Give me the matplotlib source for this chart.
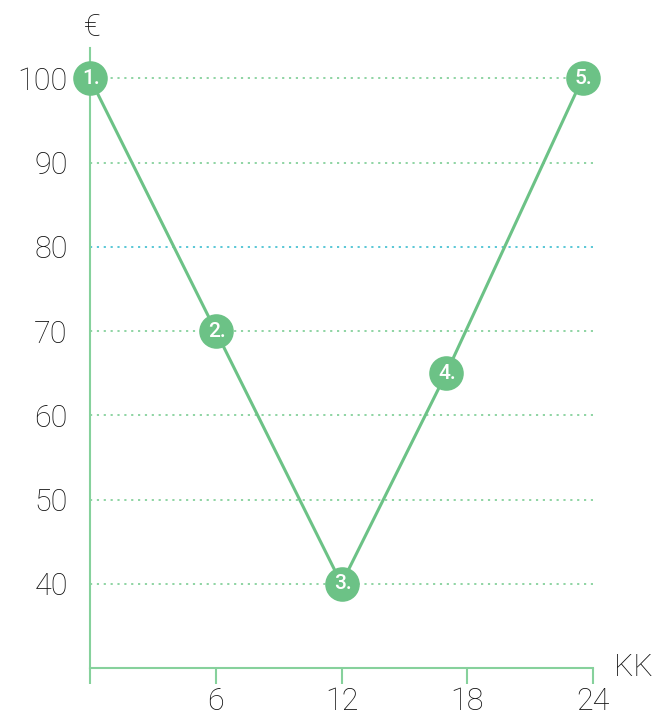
import matplotlib.pyplot as plt

# data
months = [0, 6, 12, 17, 23.5]
prices = [100, 70, 40, 65, 100]
point_labels = ["1.", "2.", "3.", "4.", "5."]
x_ticks = [0, 6, 12, 18, 24]
x_tick_labels = ["", "6", "12", "18", "24"]
y_ticks = [40, 50, 60, 70, 80, 90, 100]

green = "#6cc286"
light_green = "#86d19c"
cyan = "#4cc3d3"
ink = "#111111"

plt.rcParams['font.family'] = ['Roboto', 'DejaVu Sans']

fig = plt.figure(figsize=(6.57, 7.15), dpi=100)
ax = fig.add_axes([90 / 657, 1 - 668 / 715, (593 - 90) / 657, (668 - 48) / 715])
ax.set_xlim(0, 24)
ax.set_ylim(30, 103.6)

# dotted grid lines, the 80 one is drawn in cyan
for y in y_ticks:
    ax.axhline(y, color=cyan if y == 80 else light_green, lw=1.3,
               linestyle=(0, (1.2, 2.6)), zorder=1)

ax.plot(months, prices, color=green, lw=2.2, zorder=2, clip_on=False)
ax.scatter(months, prices, s=620, color=green, zorder=3, clip_on=False, linewidths=0)
for x, y, lab in zip(months, prices, point_labels):
    ax.text(x + 0.05, y, lab, color="white", fontsize=15, fontweight="medium",
            ha="center", va="center", zorder=4, clip_on=False)

for side in ["top", "right"]:
    ax.spines[side].set_visible(False)
for side in ["left", "bottom"]:
    ax.spines[side].set_color(light_green)
    ax.spines[side].set_linewidth(1.5)

ax.set_xticks(x_ticks)
ax.set_xticklabels(x_tick_labels)
ax.set_yticks(y_ticks)
ax.set_yticklabels([str(v) for v in y_ticks])
ax.tick_params(axis="x", length=11.5, width=1.5, color=light_green, pad=2,
               labelsize=22, labelcolor=ink)
ax.tick_params(axis="y", length=0, pad=16, labelsize=22, labelcolor=ink)
for t in ax.get_xticklabels() + ax.get_yticklabels():
    t.set_fontweight("light")

fig.text(92 / 657, 1 - 27 / 715, "€", fontsize=22, fontweight="light", color=ink,
         ha="center", va="center")
fig.text(633 / 657, 1 - 668 / 715, "KK", fontsize=22, fontweight="light", color=ink,
         ha="center", va="center")

fig.savefig("out.png", dpi=100, facecolor="white")
